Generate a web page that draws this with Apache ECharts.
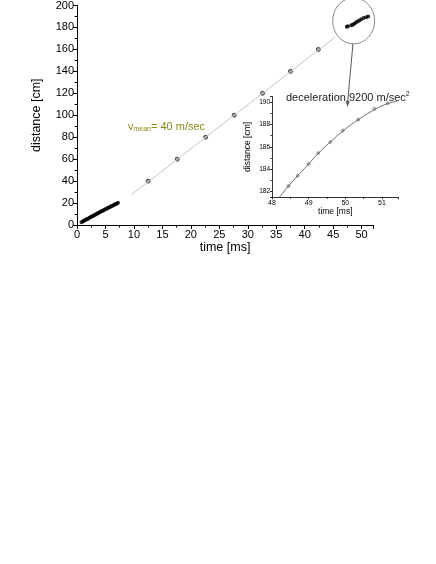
<!DOCTYPE html>
<html>
<head>
<meta charset="utf-8">
<script src="https://cdn.jsdelivr.net/npm/echarts@6/dist/echarts.min.js"></script>
<style>
  html, body { margin: 0; padding: 0; background: #fff; }
  #chart { width: 436px; height: 564px; }
</style>
</head>
<body>
<div id="chart"></div>
<script>
// early high-speed frames (dense points near start)
var startT = [0.8,1.0,1.2,1.4,1.6,1.8,2.0,2.2,2.4,2.6,2.8,3.0,3.2,3.4,3.6,3.8,4.0,4.2,4.4,4.6,4.8,5.0,5.2,5.4,5.6,5.8,6.0,6.2,6.4,6.6,6.8,7.0,7.2];
var startD = [2.6,3.2,3.8,4.3,4.9,5.5,6.0,6.6,7.2,7.7,8.3,8.9,9.4,10.0,10.5,11.1,11.6,12.2,12.7,13.3,13.8,14.3,14.9,15.4,15.9,16.5,17.0,17.5,18.1,18.6,19.1,19.7,20.2];
// single marks along the mean-speed line
var midT = [12.5, 17.6, 22.6, 27.6, 32.6, 37.5, 42.4];
var midD = [40, 60, 80, 100, 120, 140, 160];
// mean speed line (ends)
var meanT = [9.5, 45.3];
var meanD = [27.3, 171];
// points inside the circled region
var endT = [47.4, 47.6, 48.2, 48.45, 48.7, 49.0, 49.26, 49.6, 49.93, 50.35, 50.8, 51.15];
var endD = [180.6, 181.0, 182.0, 182.45, 183.4, 184.45, 185.4, 186.4, 187.5, 188.5, 189.4, 190.0];
// inset: measured points and fitted curve
var insetT = [48.45, 48.7, 49.0, 49.26, 49.59, 49.93, 50.35, 50.79, 51.15];
var insetD = [182.45, 183.37, 184.45, 185.43, 186.43, 187.47, 188.45, 189.44, 189.95];
var fitT = [48.2, 48.45, 48.7, 49.0, 49.26, 49.59, 49.93, 50.35, 50.79, 51.15, 51.42];
var fitD = [181.43, 182.45, 183.37, 184.45, 185.4, 186.43, 187.42, 188.45, 189.35, 189.9, 190.12];

function pairs(a, b) {
    return a.map(function (v, i) { return [v, b[i]]; });
}

var font = 'Liberation Sans, Arial, sans-serif';
var chart = echarts.init(document.getElementById('chart'));

chart.setOption({
    animation: false,
    grid: [
        { left: 77, right: 63, top: 5, bottom: 339 },
        { left: 272, right: 37.5, top: 96.5, bottom: 366.7 }
    ],
    xAxis: [{
        gridIndex: 0, type: 'value', min: 0, max: 52, interval: 5,
        name: 'time [ms]', nameLocation: 'middle', nameGap: 16,
        nameTextStyle: { fontFamily: font, fontSize: 12.5, color: '#000' },
        axisLine: { lineStyle: { color: '#000', width: 1 } },
        axisTick: { length: 4, lineStyle: { color: '#000' } },
        minorTick: { show: true, splitNumber: 2, length: 2.5, lineStyle: { color: '#000' } },
        axisLabel: { fontFamily: font, fontSize: 11, color: '#000', margin: 4, showMaxLabel: false },
        splitLine: { show: false }
    }, {
        gridIndex: 1, type: 'value', min: 48, max: 51.45, interval: 1,
        name: 'time [ms]', nameLocation: 'middle', nameGap: 10,
        nameTextStyle: { fontFamily: font, fontSize: 8.5, color: '#000' },
        axisLine: { lineStyle: { color: '#000', width: 0.8 } },
        axisTick: { length: 2, lineStyle: { color: '#000', width: 0.8 } },
        minorTick: { show: true, splitNumber: 2, length: 1.5, lineStyle: { color: '#000', width: 0.8 } },
        axisLabel: { fontFamily: font, fontSize: 7, color: '#000', margin: 2, showMaxLabel: false },
        splitLine: { show: false }
    }],
    yAxis: [{
        gridIndex: 0, type: 'value', min: 0, max: 200, interval: 20,
        name: 'distance [cm]', nameLocation: 'middle', nameGap: 34,
        nameTextStyle: { fontFamily: font, fontSize: 12.5, color: '#000' },
        axisLine: { show: true, lineStyle: { color: '#000', width: 1 } },
        axisTick: { show: true, length: 4, lineStyle: { color: '#000' } },
        minorTick: { show: true, splitNumber: 2, length: 2.5, lineStyle: { color: '#000' } },
        axisLabel: { fontFamily: font, fontSize: 11, color: '#000', margin: 3 },
        splitLine: { show: false }
    }, {
        gridIndex: 1, type: 'value', min: 181.43, max: 190.55,
        name: 'distance [cm]', nameLocation: 'middle', nameGap: 20,
        nameTextStyle: { fontFamily: font, fontSize: 8.5, color: '#000' },
        axisLine: { show: true, lineStyle: { color: '#000', width: 0.8 } },
        axisTick: { show: true, length: 2, lineStyle: { color: '#000', width: 0.8 } },
        minorTick: { show: true, splitNumber: 2, length: 1.5, lineStyle: { color: '#000', width: 0.8 } },
        axisLabel: { fontFamily: font, fontSize: 6.5, color: '#000', margin: 2, showMinLabel: false, showMaxLabel: false },
        splitLine: { show: false }
    }],
    series: [{
        type: 'line', xAxisIndex: 0, yAxisIndex: 0,
        data: pairs(meanT, meanD), symbol: 'none',
        lineStyle: { color: '#c4c4c4', width: 1 }
    }, {
        type: 'scatter', xAxisIndex: 0, yAxisIndex: 0,
        data: pairs(midT, midD), symbol: 'circle', symbolSize: 4,
        itemStyle: { color: '#7a8a7a', borderColor: '#1e2a1e', borderWidth: 1 }
    }, {
        type: 'scatter', xAxisIndex: 0, yAxisIndex: 0,
        data: pairs(startT, startD), symbol: 'circle', symbolSize: 4,
        itemStyle: { color: '#000' }
    }, {
        type: 'scatter', xAxisIndex: 0, yAxisIndex: 0,
        data: pairs(endT, endD), symbol: 'circle', symbolSize: 4,
        itemStyle: { color: '#000' }
    }, {
        type: 'line', xAxisIndex: 1, yAxisIndex: 1,
        data: pairs(fitT, fitD), symbol: 'none', smooth: true,
        lineStyle: { color: '#444', width: 0.8 }
    }, {
        type: 'scatter', xAxisIndex: 1, yAxisIndex: 1,
        data: pairs(insetT, insetD), symbol: 'circle', symbolSize: 3,
        itemStyle: { color: '#bbb', borderColor: '#555', borderWidth: 0.6 }
    }]
});

// annotations: circled region, arrow and texts
var c = chart.convertToPixel({ gridIndex: 0 }, [48.6, 186]);
var tip = [347.5, 107];
var from = [c[0] - 0.7, c[1] + 23];
chart.setOption({
    graphic: [{
        type: 'ellipse',
        shape: { cx: c[0], cy: c[1], rx: 21, ry: 23 },
        style: { fill: 'none', stroke: '#888', lineWidth: 1 }
    }, {
        type: 'line',
        shape: { x1: from[0], y1: from[1], x2: tip[0], y2: tip[1] - 3 },
        style: { stroke: '#555', lineWidth: 1 }
    }, {
        type: 'polygon',
        shape: { points: [[tip[0], tip[1]], [tip[0] + 2.2, tip[1] - 6], [tip[0] - 1.8, tip[1] - 6.3]] },
        style: { fill: '#555' }
    }, {
        type: 'text', left: 286, top: 91,
        style: {
            text: '{a|deceleration 9200 m/sec}{s|2}',
            rich: {
                a: { fontFamily: font, fontSize: 11, fill: '#222' },
                s: { fontFamily: font, fontSize: 7, fill: '#222', verticalAlign: 'top', padding: [0, 0, 6, 0] }
            }
        }
    }, {
        type: 'text', left: 128, top: 121,
        style: {
            text: '{a|v}{b|mean}{a|= 40 m/sec}',
            rich: {
                a: { fontFamily: font, fontSize: 11, fill: '#8a8a14' },
                b: { fontFamily: font, fontSize: 7, fill: '#8a8a14', padding: [6, 0, 0, 0] }
            }
        }
    }]
});
</script>
</body>
</html>
